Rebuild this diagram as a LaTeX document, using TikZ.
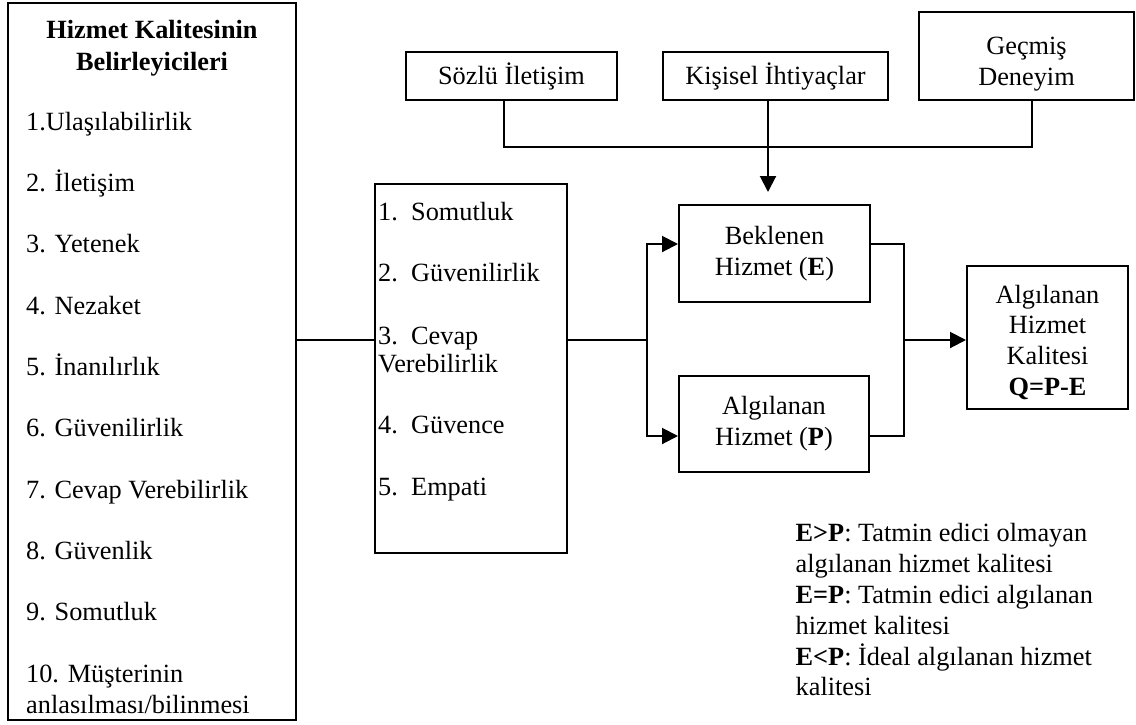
\documentclass[tikz,border=0pt]{standalone}
\usepackage{fontspec}
\setmainfont{Liberation Serif}
\usetikzlibrary{arrows.meta}
\newcommand\diagfont{\fontsize{26.3pt}{30.8pt}\selectfont}
\begin{document}
\begin{tikzpicture}[x=1pt,y=-1pt,
  every node/.style={font=\diagfont},
  box/.style={draw, line width=2pt, inner sep=0pt, align=center},
  link/.style={line width=2pt},
  arr/.style={link, -{Triangle[length=16pt,width=16pt]}},
  item/.style={anchor=base west, inner sep=0pt},
  head/.style={anchor=base, inner sep=0pt, font=\diagfont\bfseries}]
\useasboundingbox (0,0) rectangle (1136,724);

% determinants column
\node[box, minimum width=288pt, minimum height=717pt] (left) at (152,361.5) {};
\node[head] (t1) at (152,38) {Hizmet Kalitesinin};
\node[head] (t2) at (152,70) {Belirleyicileri};
\foreach \i/\txt in {1/{1.Ulaşılabilirlik}, 2/{2. İletişim}, 3/{3. Yetenek},
    4/{4. Nezaket}, 5/{5. İnanılırlık}, 6/{6. Güvenilirlik},
    7/{7. Cevap Verebilirlik}, 8/{8. Güvenlik}, 9/{9. Somutluk},
    10/{10. Müşterinin}}
  \node[item] (l\i) at (26,{130+61.34*(\i-1)}) {\txt};
\node[item] (l10b) at (26,713) {anlasılması/bilinmesi};

% SERVQUAL dimensions
\node[box, minimum width=192pt, minimum height=369pt] (mid) at (471,368.5) {};
\node[item] (m1) at (378,220) {\makebox[33pt][l]{1.}Somutluk};
\node[item] (m2) at (378,281.5) {\makebox[33pt][l]{2.}Güvenilirlik};
\node[item] (m3) at (378,344) {\makebox[33pt][l]{3.}Cevap};
\node[item] (m3b) at (378,372.5) {Verebilirlik};
\node[item] (m4) at (378,433.5) {\makebox[33pt][l]{4.}Güvence};
\node[item] (m5) at (378,495) {\makebox[33pt][l]{5.}Empati};

% expectation sources
\node[box, minimum width=211pt, minimum height=48pt] (sozlu) at (511.5,76) {Sözlü İletişim};
\node[box, minimum width=225pt, minimum height=48pt] (kisisel) at (775.5,76) {Kişisel İhtiyaçlar};
\node[box, minimum width=215pt, minimum height=88pt] (gecmis) at (1026.5,56)
  {\rule{0pt}{33pt}Geçmiş\\Deneyim};

% expected / perceived service
\node[box, minimum width=191pt, minimum height=97pt] (bek) at (774.5,253.5) {Beklenen\\Hizmet (\textbf{E})};
\node[box, minimum width=190pt, minimum height=96pt] (alg) at (774,424) {Algılanan\\Hizmet (\textbf{P})};
\node[box, minimum width=161pt, minimum height=143pt] (q) at (1047.5,337.5)
  {\rule{0pt}{28pt}Algılanan\\Hizmet\\Kalitesi\\\textbf{Q=P-E}};

% legend
\node[anchor=north west, inner sep=0pt, align=left] (legend) at (795.5,520.1)
  {\strut\textbf{E>P}: Tatmin edici olmayan\\
   algılanan hizmet kalitesi\\
   \textbf{E=P}: Tatmin edici algılanan\\
   hizmet kalitesi\\
   \textbf{E<P}: İdeal algılanan hizmet\\
   kalitesi};

% connectors
\coordinate (split) at (647,340);
\coordinate (join) at (904,340);
\coordinate (bus) at (768,147);

\draw[link] (left.east |- split) -- (mid.west |- split);
\draw[link] (mid.east |- split) -- (split);
\draw[arr] (split) |- ([yshift=9.5pt]bek.west);
\draw[arr] (split) |- ([yshift=-12pt]alg.west);
\draw[link] ([yshift=9.5pt]bek.east) -| (join) |- ([yshift=-12pt]alg.east);
\draw[arr] (join) -- (q.west |- join);

\draw[link] ([xshift=-7.5pt]sozlu.south) |- (bus) -| ([xshift=5.5pt]gecmis.south);
\draw[arr, shorten >=12pt] ([xshift=-7.5pt]kisisel.south) -- (bek.north -| bus);
\end{tikzpicture}
\end{document}
